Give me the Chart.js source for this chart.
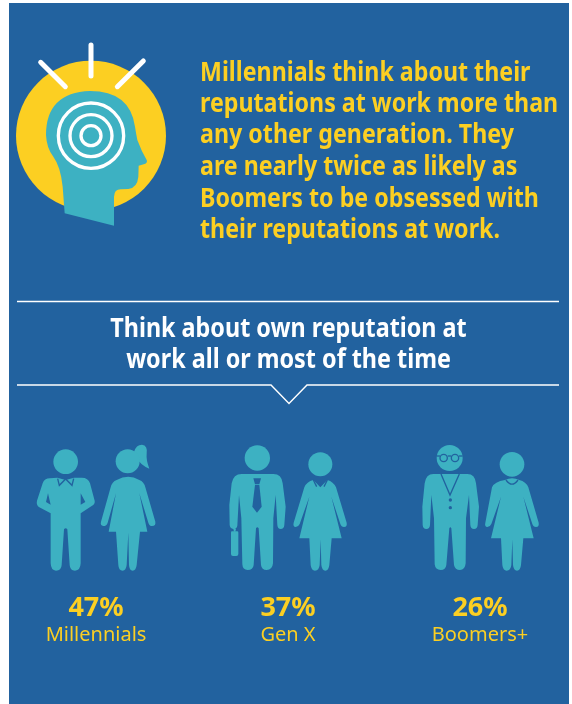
<!DOCTYPE html>
<html>
<head>
<meta charset="utf-8">
<title>Reputation at work</title>
<script src="https://cdn.jsdelivr.net/npm/chart.js@4/dist/chart.umd.min.js"></script>
<style>
    html, body { margin: 0; padding: 0; background: #fff; }
    canvas { display: block; }
</style>
</head>
<body>
<canvas id="chartReputacion" width="572" height="704"></canvas>
<script>
// Survey data
const generaciones = ['Millennials', 'Gen X', 'Boomers+'];
const porcentajes = [47, 37, 26];

const textoIntro = [
    'Millennials think about their',
    'reputations at work more than',
    'any other generation. They',
    'are nearly twice as likely as',
    'Boomers to be obsessed with',
    'their reputations at work.'
];
const textoTitulo = ['Think about own reputation at', 'work all or most of the time'];

const AZUL = '#22629f';
const TEAL = '#3db1c2';
const AMARILLO = '#fccf22';
const BLANCO = '#ffffff';
const FUENTE = '"Noto Sans", "Open Sans", sans-serif';

// Silhouettes, one pair per generation. Coordinates are 3x px, origin at the row top.
const siluetas = [
    {
        centro: 228,
        cuerpo: [
            'M90 145 L112 143 L137 150 L162 143 L185 143 Q205 143 210 160 L224 212 Q226 222 215 228 L182 250 L182 400 Q181 422 165 422 Q150 422 149 405 L142 298 Q137 291 132 298 L125 405 Q124 422 108 422 Q93 422 92 400 L92 250 L58 232 Q48 225 51 212 L68 160 Q73 145 90 145 Z',
            'M290 150 Q325 130 358 150 Q372 155 376 172 L406 275 Q408 288 396 288 Q388 288 385 278 L358 190 L382 305 L360 305 L350 405 Q348 422 338 422 Q328 422 327 405 L325 308 L320 405 Q318 422 308 422 Q296 422 295 405 L288 305 L266 305 L288 190 L263 278 Q260 288 250 288 Q240 286 243 275 L272 172 Q276 155 290 150 Z',
            'M342 66 Q348 44 366 44 Q384 46 380 72 Q378 90 388 116 Q362 106 350 84 Z'
        ],
        cabezas: [[137, 95, 37], [323, 94, 36]],
        detalle: [
            'M84 190 L92 224 L78 216 Z',
            'M182 190 L196 216 L182 224 Z'
        ],
        trazos: ['M113 146 L118 166 L137 147 L156 166 L161 146'],
        puntos: []
    },
    {
        centro: 234,
        cuerpo: [
            'M95 132 L190 132 Q215 132 218 160 L227 230 L223 285 Q222 297 212 297 Q203 297 202 285 L197 195 L190 265 L189 400 Q187 420 170 420 Q155 420 153 405 L146 295 Q142 289 138 295 L131 405 Q129 420 113 420 Q98 420 97 403 L94 265 L87 195 L82 287 Q80 297 70 297 Q60 295 59 285 L58 225 L65 160 Q70 132 95 132 Z',
            'M66 304 L82 304 Q85 304 85 308 L85 372 Q85 378 79 378 L69 378 Q63 378 63 372 L63 308 Q63 304 66 304 Z',
            'M70 296 L78 296 L76 305 L72 305 Z',
            'M310 150 L331 172 L352 150 Q370 155 378 172 L410 278 Q412 291 402 291 Q394 291 391 282 L364 200 L395 325 L365 325 L358 405 Q356 422 346 422 Q336 422 334 405 L332 328 L329 405 Q327 422 315 422 Q304 422 302 405 L298 325 L268 325 L298 200 L269 282 Q265 291 257 291 Q248 290 251 278 L283 172 Q290 155 310 150 Z'
        ],
        cabezas: [[142, 84, 38], [331, 103, 36]],
        detalle: [
            'M130 145 L153 145 L148 163 L135 163 Z',
            'M135 165 L148 165 L155 230 L141 248 L127 230 Z'
        ],
        trazos: ['M310 150 L320 170', 'M352 150 L342 170'],
        puntos: []
    },
    {
        centro: 240,
        cuerpo: [
            'M100 132 L202 132 Q225 132 228 160 L237 230 L233 285 Q232 297 222 297 Q212 297 211 285 L207 195 L198 265 L197 400 Q195 420 180 420 Q165 420 162 405 L154 295 Q151 289 148 295 L139 405 Q137 420 122 420 Q106 420 104 403 L102 265 L94 195 L90 285 Q89 297 79 297 Q69 297 68 285 L67 230 L74 160 Q78 132 100 132 Z',
            'M315 150 Q336 140 358 150 Q378 155 385 172 L416 278 Q418 291 408 291 Q400 291 397 282 L370 200 L401 325 L370 325 L363 405 Q361 422 351 422 Q341 422 339 405 L337 328 L334 405 Q332 422 320 422 Q309 422 307 405 L303 325 L273 325 L303 200 L274 282 Q270 291 262 291 Q253 290 256 278 L276 172 Q283 155 315 150 Z'
        ],
        cabezas: [[149, 84, 39], [336, 103, 37]],
        detalle: [],
        trazos: [
            'M123 132 L150 195 L178 132',
            'M110 78 L120 78', 'M143 78 L154 78', 'M177 78 L188 78',
            'M318 150 Q336 175 354 150'
        ],
        puntos: [[151, 210, 5], [151, 233, 5]],
        aros: [[131, 84, 11], [165, 84, 11]]
    }
];

// Condenses a line of text horizontally by factor k
function escribir(ctx, texto, x, y, k) {
    ctx.fillText(texto, x, y, ctx.measureText(texto).width * k);
}

function dibujarFondo(ctx) {
    ctx.fillStyle = AZUL;
    ctx.fillRect(9, 3, 560, 701);
}

// Head with target and rays
function dibujarCabeza(ctx) {
    ctx.save();
    ctx.translate(0, 20);
    ctx.scale(1 / 3, 1 / 3);

    ctx.fillStyle = AMARILLO;
    ctx.beginPath();
    ctx.arc(273, 347, 225, 0, Math.PI * 2);
    ctx.fill();

    ctx.fillStyle = TEAL;
    ctx.fill(new Path2D('M194 580 L342 617 L342 530 Q343 508 362 508 L385 507 Q412 503 415 470 L416 437 L436 431 Q443 427 440 420 Q425 395 412 360 Q408 340 405 320 Q390 213 270 213 Q138 218 138 345 Q140 385 160 410 Q182 440 188 500 Z'));

    ctx.strokeStyle = BLANCO;
    ctx.lineWidth = 10;
    [98, 63, 30].forEach(r => {
        ctx.beginPath();
        ctx.arc(273, 347, r, 0, Math.PI * 2);
        ctx.stroke();
    });

    ctx.lineWidth = 15;
    ctx.lineCap = 'round';
    ctx.stroke(new Path2D('M273 75 L273 168 M122 127 L196 200 M430 123 L352 200'));
    ctx.restore();
}

function dibujarTextos(ctx) {
    ctx.textBaseline = 'alphabetic';

    ctx.fillStyle = AMARILLO;
    ctx.textAlign = 'left';
    ctx.font = `700 26px ${FUENTE}`;
    const baseIntro = [81, 112, 143, 175, 207, 238];
    textoIntro.forEach((linea, i) => escribir(ctx, linea, 200, baseIntro[i], 0.893));

    ctx.fillStyle = BLANCO;
    ctx.textAlign = 'center';
    ctx.font = `700 26px ${FUENTE}`;
    const baseTitulo = [337, 368];
    textoTitulo.forEach((linea, i) => escribir(ctx, linea, 288.5, baseTitulo[i], 0.898));

    // Rules around the heading, the lower one with its pointer
    ctx.strokeStyle = BLANCO;
    ctx.lineWidth = 1.4;
    ctx.beginPath();
    ctx.moveTo(17, 301.5);
    ctx.lineTo(559, 301.5);
    ctx.moveTo(17, 385);
    ctx.lineTo(271, 385);
    ctx.lineTo(289, 403.5);
    ctx.lineTo(307, 385);
    ctx.lineTo(559, 385);
    ctx.stroke();
}

function dibujarSilueta(ctx, s, x) {
    ctx.save();
    ctx.translate(x, 430);
    ctx.scale(1 / 3, 1 / 3);
    ctx.translate(-s.centro, 0);

    ctx.fillStyle = TEAL;
    s.cuerpo.forEach(d => ctx.fill(new Path2D(d)));
    s.cabezas.forEach(([cx, cy, r]) => {
        ctx.beginPath();
        ctx.arc(cx, cy, r, 0, Math.PI * 2);
        ctx.fill();
    });

    ctx.fillStyle = AZUL;
    s.detalle.forEach(d => ctx.fill(new Path2D(d)));
    s.puntos.forEach(([cx, cy, r]) => {
        ctx.beginPath();
        ctx.arc(cx, cy, r, 0, Math.PI * 2);
        ctx.fill();
    });

    ctx.strokeStyle = AZUL;
    ctx.lineWidth = 4;
    s.trazos.forEach(d => ctx.stroke(new Path2D(d)));
    (s.aros || []).forEach(([cx, cy, r]) => {
        ctx.beginPath();
        ctx.arc(cx, cy, r, 0, Math.PI * 2);
        ctx.stroke();
    });
    ctx.restore();
}

const pluginInfografia = {
    id: 'infografia',
    beforeDraw(chart) {
        const ctx = chart.ctx;
        ctx.save();
        dibujarFondo(ctx);
        dibujarCabeza(ctx);
        dibujarTextos(ctx);
        ctx.restore();
    },
    afterDraw(chart) {
        const ctx = chart.ctx;
        const meta = chart.getDatasetMeta(0);
        ctx.save();
        meta.data.forEach((barra, i) => {
            dibujarSilueta(ctx, siluetas[i], barra.x);
            ctx.fillStyle = AMARILLO;
            ctx.textAlign = 'center';
            ctx.textBaseline = 'alphabetic';
            ctx.font = `700 27px ${FUENTE}`;
            ctx.fillText(`${chart.data.datasets[0].data[i]}%`, barra.x, 616);
        });
        ctx.restore();
    }
};

const ctx = document.getElementById('chartReputacion').getContext('2d');
new Chart(ctx, {
    type: 'bar',
    data: {
        labels: generaciones,
        datasets: [{
            label: 'Think about own reputation at work all or most of the time',
            data: porcentajes,
            backgroundColor: 'transparent',
            borderWidth: 0
        }]
    },
    options: {
        responsive: false,
        animation: false,
        layout: { padding: { left: 96, right: 92, top: 430, bottom: 57 } },
        plugins: { legend: { display: false }, tooltip: { enabled: false } },
        scales: {
            x: {
                offset: false,
                grid: { display: false },
                border: { display: false },
                ticks: {
                    color: AMARILLO,
                    font: { family: FUENTE, size: 20, weight: 400 },
                    maxRotation: 0,
                    autoSkip: false,
                    padding: 0
                }
            },
            y: { display: false, min: 0, max: 100 }
        }
    },
    plugins: [pluginInfografia]
});
</script>
</body>
</html>
